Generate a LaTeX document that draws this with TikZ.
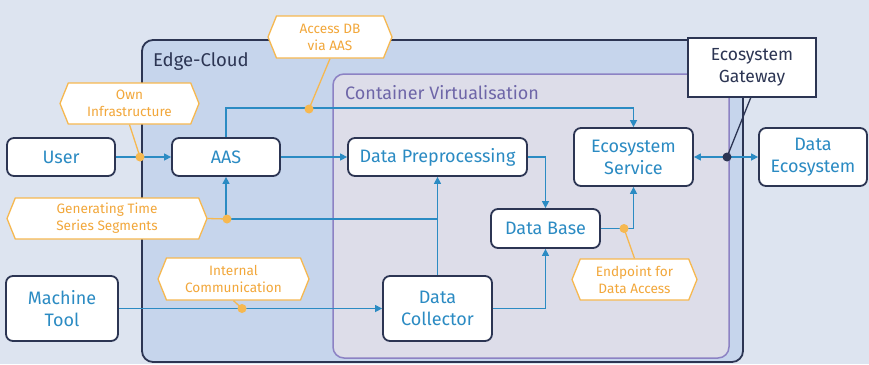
\documentclass[tikz,border=0pt]{standalone}
\usepackage{fontspec}
\setmainfont{Fira Sans}
\usetikzlibrary{arrows.meta,shapes.symbols,calc}
\definecolor{bgc}{HTML}{DDE4F0}
\definecolor{edgefill}{HTML}{C6D5EC}
\definecolor{navy}{HTML}{2C3553}
\definecolor{contfill}{HTML}{DDDDE9}
\definecolor{contline}{HTML}{8C82C4}
\definecolor{conttext}{HTML}{6E66A8}
\definecolor{bluec}{HTML}{2B8BC3}
\definecolor{orline}{HTML}{F6B850}
\definecolor{ortext}{HTML}{F2A73A}
\begin{document}
\begin{tikzpicture}[x=1pt,y=-1pt,
  box/.style={draw=navy,line width=1.8pt,fill=white,rounded corners=7pt,align=center,
    text=bluec,font=\fontsize{18}{22}\selectfont,inner sep=0pt},
  gwbox/.style={draw=navy,line width=1.8pt,fill=white,align=center,
    text=navy,font=\fontsize{17.5}{22}\selectfont,inner sep=0pt},
  hexl/.style={signal,signal to=east and west,signal pointer angle=136,draw=orline,line width=1.3pt,
    fill=white,align=center,text=ortext,font=\fontsize{13.6}{17}\selectfont,inner sep=0pt},
  arr/.style={draw=bluec,line width=1.4pt,-{Triangle[length=7pt,width=7pt]}},
  arrb/.style={draw=bluec,line width=1.4pt,{Triangle[length=7pt,width=7pt]}-{Triangle[length=7pt,width=7pt]}},
  oln/.style={draw=orline,line width=1.3pt},
  odot/.style={fill=orline},
]
\useasboundingbox (0,0) rectangle (869,364);
\fill[bgc] (0,0) rectangle (869,364);
% Edge-Cloud
\draw[navy,line width=1.8pt,fill=edgefill,rounded corners=11pt] (142,40) rectangle (743,362);
\node[anchor=base west,text=navy,font=\fontsize{18.5}{22}\selectfont,inner sep=0pt] (ectitle) at (153,66) {Edge-Cloud};
% Container
\draw[contline,line width=1.5pt,fill=contfill,rounded corners=11pt] (333,74) rectangle (729,358);
\node[anchor=base west,text=conttext,font=\fontsize{18}{22}\selectfont,inner sep=0pt] (cvtitle) at (345,99) {Container Virtualisation};
% Nodes
\node[box,minimum width=108,minimum height=38] (user) at (61,157) {User};
\node[box,minimum width=108,minimum height=38] (aas) at (226,157) {AAS};
\node[box,minimum width=179,minimum height=38] (dpp) at (437.5,157) {Data Preprocessing};
\node[box,minimum width=119,minimum height=58] (ess) at (633.5,157) {Ecosystem\\Service};
\node[box,minimum width=108,minimum height=58] (deco) at (813,157) {Data\\Ecosystem};
\node[box,minimum width=109,minimum height=39] (db) at (545.5,228.5) {Data Base};
\node[box,minimum width=109,minimum height=65] (dc) at (437.5,308.5) {Data\\Collector};
\node[box,minimum width=112,minimum height=65] (mt) at (62,308.5) {Machine\\Tool};
\node[gwbox,minimum width=128,minimum height=59] (gw) at (752,67.5) {Ecosystem\\Gateway};
% Connectors
\coordinate (br) at (437.5,219);
\draw[arr] (user.east) -- (aas.west);
\draw[arr] (aas.east) -- (dpp.west);
\draw[arr] (aas.north) -- ++(0,-29) -| (ess.north);
\draw[arr] (dc.north) -- (dpp.south);
\draw[arr] (br) -| (aas.south);
\draw[arr] (mt.east) -- (dc.west);
\draw[arr] (dpp.east) -| (db.north);
\draw[arr] (dc.east) -| (db.south);
\draw[arr] (db.east) -| (ess.south);
\draw[arrb] (ess.east) -- (deco.west);
% Gateway link
\coordinate (gdot) at (727,157);
\draw[navy,line width=1.3pt] (gdot) -- (751,97);
\fill[navy] (gdot) circle (4.5pt);
% Annotations
\node[hexl,minimum width=124,minimum height=42] (acc) at (330,37) {Access DB\\via AAS};
\node[hexl,minimum width=139,minimum height=41] (own) at (129.5,103.5) {Own\\Infrastructure};
\node[hexl,minimum width=200,minimum height=41] (gen) at (107,218.5) {Generating Time\\Series Segments};
\node[hexl,minimum width=151,minimum height=42] (ic) at (233.5,279) {Internal\\Communication};
\node[hexl,minimum width=125,minimum height=41] (ep) at (634.5,279.5) {Endpoint for\\Data Access};
\coordinate (od1) at (140,157);
\coordinate (od2) at (309,109);
\coordinate (od3) at (227,219);
\coordinate (od4) at (242,308.5);
\coordinate (od5) at (624,228.5);
\draw[oln] (own.south) -- (od1);
\draw[oln] (acc.south) -- (od2);
\draw[oln] (gen.east) -- (od3);
\draw[oln] (ic.south) -- (od4);
\draw[oln] (ep.north) -- (od5);
\foreach \d in {od1,od2,od3,od4,od5} \fill[odot] (\d) circle (4.5pt);
\end{tikzpicture}
\end{document}
